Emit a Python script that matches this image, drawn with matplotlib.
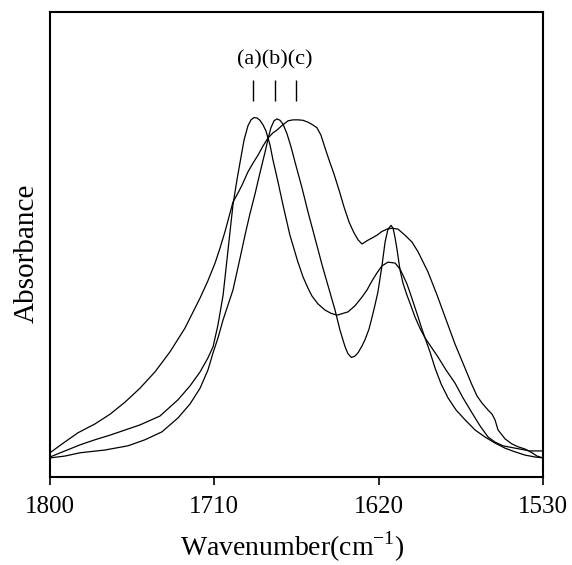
import matplotlib
matplotlib.use("Agg")
import matplotlib.pyplot as plt

plt.rcParams['font.family'] = ['Liberation Serif', 'DejaVu Serif']
plt.rcParams['mathtext.fontset'] = 'custom'
plt.rcParams['mathtext.rm'] = 'Liberation Serif'

# Wavenumber (cm-1) and absorbance (arbitrary units)
wn_a = [1800.0, 1791.8, 1783.6, 1775.4, 1767.1, 1758.9, 1750.7, 1739.8, 1729.9, 1723.3,
        1717.8, 1713.5, 1710.7, 1708.0, 1705.2, 1702.5, 1699.8, 1697.6, 1695.9, 1693.7,
        1691.6, 1689.9, 1688.3, 1686.6, 1685.0, 1683.3, 1681.7, 1679.5, 1677.9, 1675.1,
        1672.4, 1668.6, 1664.2, 1661.4, 1658.7, 1656.5, 1653.2, 1649.4, 1646.1, 1642.8,
        1636.8, 1633.0, 1629.1, 1626.4, 1623.6, 1620.9, 1618.2, 1614.9, 1611.0, 1608.3,
        1606.7, 1604.5, 1602.8, 1600.6, 1598.4, 1596.3, 1594.6, 1590.8, 1587.5, 1583.1,
        1578.2, 1573.8, 1568.9, 1564.5, 1560.1, 1556.3, 1551.9, 1545.3, 1537.1, 1530.0]
abs_a = [0.043, 0.056, 0.069, 0.080, 0.090, 0.101, 0.112, 0.131, 0.166, 0.196,
         0.226, 0.256, 0.280, 0.327, 0.391, 0.488, 0.585, 0.639, 0.677, 0.725,
         0.755, 0.768, 0.773, 0.772, 0.767, 0.757, 0.744, 0.714, 0.682, 0.634,
         0.585, 0.520, 0.462, 0.430, 0.406, 0.389, 0.372, 0.359, 0.352, 0.348,
         0.355, 0.368, 0.387, 0.402, 0.422, 0.439, 0.454, 0.462, 0.460, 0.447,
         0.434, 0.415, 0.396, 0.370, 0.344, 0.318, 0.299, 0.277, 0.258, 0.230,
         0.202, 0.170, 0.138, 0.110, 0.086, 0.075, 0.067, 0.062, 0.056, 0.056]

wn_b = [1800.0, 1791.8, 1783.6, 1769.9, 1757.3, 1748.0, 1738.7, 1729.9, 1723.3, 1717.8,
        1713.5, 1710.7, 1708.0, 1705.2, 1702.5, 1699.8, 1695.9, 1693.2, 1690.5, 1687.7,
        1685.0, 1682.2, 1680.6, 1679.0, 1677.3, 1675.7, 1674.0, 1672.4, 1670.2, 1668.0,
        1665.8, 1662.0, 1658.7, 1654.9, 1651.0, 1646.6, 1643.9, 1641.2, 1638.4, 1636.8,
        1634.9, 1633.0, 1631.3, 1629.1, 1627.5, 1625.3, 1623.6, 1622.0, 1620.4, 1618.2,
        1616.5, 1614.9, 1613.2, 1612.1, 1611.0, 1609.9, 1608.3, 1606.7, 1604.5, 1602.3,
        1600.1, 1597.4, 1594.6, 1591.9, 1589.1, 1585.8, 1582.0, 1577.6, 1572.7, 1567.2,
        1561.8, 1556.3, 1550.8, 1545.3, 1539.8, 1534.4, 1530.0]
abs_b = [0.041, 0.045, 0.052, 0.058, 0.067, 0.080, 0.097, 0.127, 0.157, 0.191,
         0.230, 0.267, 0.299, 0.338, 0.370, 0.402, 0.471, 0.520, 0.566, 0.609,
         0.654, 0.699, 0.727, 0.751, 0.766, 0.770, 0.767, 0.759, 0.738, 0.710,
         0.677, 0.622, 0.570, 0.514, 0.456, 0.396, 0.359, 0.316, 0.280, 0.265,
         0.257, 0.260, 0.267, 0.282, 0.295, 0.318, 0.344, 0.370, 0.398, 0.454,
         0.505, 0.533, 0.541, 0.535, 0.514, 0.488, 0.445, 0.417, 0.391, 0.368,
         0.344, 0.320, 0.299, 0.269, 0.234, 0.200, 0.170, 0.144, 0.123, 0.101,
         0.086, 0.073, 0.062, 0.054, 0.047, 0.043, 0.041]

wn_c = [1800.0, 1793.4, 1784.7, 1775.4, 1767.1, 1758.9, 1750.7, 1742.5, 1734.3, 1726.1,
        1717.8, 1713.5, 1709.6, 1706.9, 1704.2, 1702.0, 1699.8, 1697.0, 1694.8, 1691.6,
        1688.8, 1686.1, 1683.3, 1680.6, 1677.9, 1675.7, 1672.9, 1669.6, 1666.9, 1664.2,
        1661.4, 1658.7, 1656.0, 1653.8, 1651.6, 1649.4, 1647.2, 1644.5, 1641.7, 1639.0,
        1636.2, 1633.5, 1631.3, 1629.1, 1626.4, 1623.6, 1620.9, 1618.2, 1615.4, 1612.7,
        1609.4, 1605.6, 1601.7, 1598.4, 1593.0, 1588.0, 1582.6, 1578.2, 1572.7, 1568.9,
        1566.1, 1563.4, 1560.1, 1557.9, 1556.3, 1554.6, 1550.8, 1547.0, 1543.7, 1539.8,
        1536.0, 1533.3, 1530.0]
abs_c = [0.052, 0.071, 0.095, 0.114, 0.135, 0.161, 0.191, 0.226, 0.269, 0.320,
         0.385, 0.422, 0.460, 0.492, 0.527, 0.559, 0.591, 0.611, 0.628, 0.656,
         0.675, 0.692, 0.712, 0.729, 0.740, 0.746, 0.756, 0.766, 0.768, 0.768,
         0.767, 0.763, 0.757, 0.751, 0.735, 0.708, 0.682, 0.652, 0.617, 0.581,
         0.548, 0.525, 0.510, 0.501, 0.508, 0.514, 0.520, 0.528, 0.533, 0.535,
         0.533, 0.520, 0.505, 0.484, 0.441, 0.391, 0.333, 0.286, 0.234, 0.198,
         0.174, 0.159, 0.144, 0.135, 0.123, 0.101, 0.082, 0.071, 0.065, 0.060,
         0.052, 0.045, 0.041]

marker_wn = [1689, 1677, 1665]
marker_label = "(a)(b)(c)"
xticks = [1800, 1710, 1620, 1530]

fig = plt.figure(figsize=(5.72, 5.65), dpi=100)
ax = fig.add_axes([0.0874, 0.1558, 0.8619, 0.8230])

for wn, ab in [(wn_a, abs_a), (wn_b, abs_b), (wn_c, abs_c)]:
    ax.plot(wn, ab, color='black', lw=0.9, solid_joinstyle='round')

ax.vlines(marker_wn, 0.809, 0.854, color='black', lw=1.0)
ax.text(sum(marker_wn) / 3, 0.897, marker_label, ha='center', va='center', fontsize=16)

ax.set_xlim(1800, 1530)
ax.set_ylim(0, 1)
ax.set_xticks(xticks)
ax.set_xticklabels([str(t) for t in xticks])
ax.set_yticks([])
ax.tick_params(axis='x', direction='out', length=6, width=1.2, labelsize=18, pad=8)
for s in ax.spines.values():
    s.set_linewidth(1.5)

fig.text(27 / 572, 1 - 253 / 565, 'Absorbance', rotation=90, ha='center', va='center', fontsize=21)
fig.text(292 / 572, 1 - 547 / 565, 'Wavenumber(cm$^{\\mathregular{-1}}$)', ha='center', va='center', fontsize=20)

fig.savefig('out.png', dpi=100)
